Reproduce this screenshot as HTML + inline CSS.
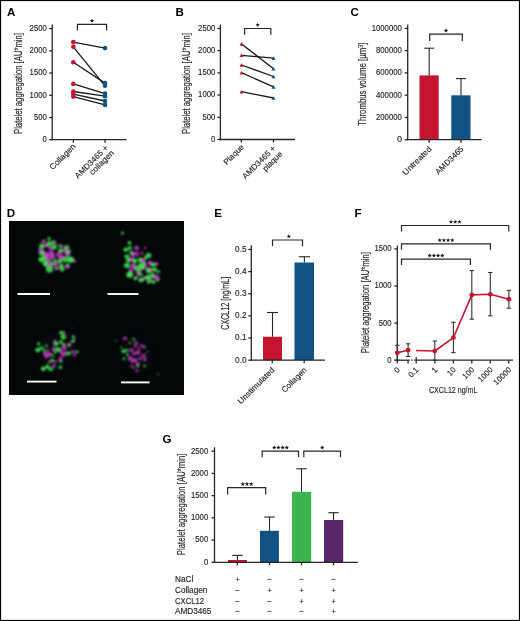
<!DOCTYPE html>
<html><head><meta charset="utf-8"><style>
html,body{margin:0;padding:0;background:#fff;}
body{width:520px;height:621px;overflow:hidden;}
svg{will-change:transform;display:block;font-family:"Liberation Sans", sans-serif;}
</style></head><body>
<svg width="520" height="621" viewBox="0 0 520 621">
<rect x="0" y="0" width="520" height="621" fill="#fff"/>
<text x="7.00" y="15.80" font-size="11.6" fill="#000" text-anchor="start" font-weight="bold">A</text>
<line x1="52.20" y1="24.60" x2="52.20" y2="140.35" stroke="#262626" stroke-width="1.3" />
<line x1="49.20" y1="139.70" x2="52.20" y2="139.70" stroke="#262626" stroke-width="1.3" />
<text x="46.80" y="142.10" font-size="8.6" fill="#231f20" text-anchor="end" stroke="#231f20" stroke-width="0.15" textLength="4.3" lengthAdjust="spacingAndGlyphs">0</text>
<line x1="49.20" y1="117.48" x2="52.20" y2="117.48" stroke="#262626" stroke-width="1.3" />
<text x="46.80" y="119.88" font-size="8.6" fill="#231f20" text-anchor="end" stroke="#231f20" stroke-width="0.15" textLength="12.899999999999999" lengthAdjust="spacingAndGlyphs">500</text>
<line x1="49.20" y1="95.26" x2="52.20" y2="95.26" stroke="#262626" stroke-width="1.3" />
<text x="46.80" y="97.66" font-size="8.6" fill="#231f20" text-anchor="end" stroke="#231f20" stroke-width="0.15" textLength="17.2" lengthAdjust="spacingAndGlyphs">1000</text>
<line x1="49.20" y1="73.04" x2="52.20" y2="73.04" stroke="#262626" stroke-width="1.3" />
<text x="46.80" y="75.44" font-size="8.6" fill="#231f20" text-anchor="end" stroke="#231f20" stroke-width="0.15" textLength="17.2" lengthAdjust="spacingAndGlyphs">1500</text>
<line x1="49.20" y1="50.82" x2="52.20" y2="50.82" stroke="#262626" stroke-width="1.3" />
<text x="46.80" y="53.22" font-size="8.6" fill="#231f20" text-anchor="end" stroke="#231f20" stroke-width="0.15" textLength="17.2" lengthAdjust="spacingAndGlyphs">2000</text>
<line x1="49.20" y1="28.60" x2="52.20" y2="28.60" stroke="#262626" stroke-width="1.3" />
<text x="46.80" y="31.00" font-size="8.6" fill="#231f20" text-anchor="end" stroke="#231f20" stroke-width="0.15" textLength="17.2" lengthAdjust="spacingAndGlyphs">2500</text>
<line x1="51.55" y1="139.70" x2="126.50" y2="139.70" stroke="#262626" stroke-width="1.3" />
<line x1="73.40" y1="139.70" x2="73.40" y2="142.70" stroke="#262626" stroke-width="1.3" />
<line x1="105.10" y1="139.70" x2="105.10" y2="142.70" stroke="#262626" stroke-width="1.3" />
<polyline points="77.4,30.4 77.4,24.3 106.6,24.3 106.6,30.4" fill="none" stroke="#262626" stroke-width="1.2"/>
<polygon points="92.00,18.40 92.56,19.93 94.19,19.99 92.90,20.99 93.35,22.56 92.00,21.65 90.65,22.56 91.10,20.99 89.81,19.99 91.44,19.93" fill="#111"/>
<line x1="73.30" y1="42.10" x2="105.00" y2="48.10" stroke="#1a1a1a" stroke-width="1.3" />
<line x1="73.30" y1="46.80" x2="105.00" y2="85.80" stroke="#1a1a1a" stroke-width="1.3" />
<line x1="73.30" y1="62.20" x2="105.00" y2="83.10" stroke="#1a1a1a" stroke-width="1.3" />
<line x1="73.30" y1="83.90" x2="105.00" y2="93.60" stroke="#1a1a1a" stroke-width="1.3" />
<line x1="73.30" y1="91.50" x2="105.00" y2="96.20" stroke="#1a1a1a" stroke-width="1.3" />
<line x1="73.30" y1="94.10" x2="105.00" y2="101.00" stroke="#1a1a1a" stroke-width="1.3" />
<line x1="73.30" y1="96.60" x2="105.00" y2="104.90" stroke="#1a1a1a" stroke-width="1.3" />
<circle cx="73.3" cy="42.1" r="2.3" fill="#c41430"/>
<circle cx="105.0" cy="48.1" r="2.3" fill="#105283"/>
<circle cx="73.3" cy="46.8" r="2.3" fill="#c41430"/>
<circle cx="105.0" cy="85.8" r="2.3" fill="#105283"/>
<circle cx="73.3" cy="62.2" r="2.3" fill="#c41430"/>
<circle cx="105.0" cy="83.1" r="2.3" fill="#105283"/>
<circle cx="73.3" cy="83.9" r="2.3" fill="#c41430"/>
<circle cx="105.0" cy="93.6" r="2.3" fill="#105283"/>
<circle cx="73.3" cy="91.5" r="2.3" fill="#c41430"/>
<circle cx="105.0" cy="96.2" r="2.3" fill="#105283"/>
<circle cx="73.3" cy="94.1" r="2.3" fill="#c41430"/>
<circle cx="105.0" cy="101.0" r="2.3" fill="#105283"/>
<circle cx="73.3" cy="96.6" r="2.3" fill="#c41430"/>
<circle cx="105.0" cy="104.9" r="2.3" fill="#105283"/>
<text transform="translate(21.90,83.50) rotate(-90)" font-size="10" fill="#231f20" text-anchor="middle" stroke="#231f20" stroke-width="0.15" textLength="101" lengthAdjust="spacingAndGlyphs">Platelet aggregation [AU*min]</text>
<text transform="translate(76.00,147.00) rotate(-45)" font-size="8" fill="#231f20" text-anchor="end" stroke="#231f20" stroke-width="0.15" textLength="33" lengthAdjust="spacingAndGlyphs">Collagen</text>
<text transform="translate(108.50,148.50) rotate(-45)" font-size="8" fill="#231f20" text-anchor="end" stroke="#231f20" stroke-width="0.15" textLength="43" lengthAdjust="spacingAndGlyphs">AMD3465 +</text>
<text transform="translate(114.50,153.50) rotate(-45)" font-size="8" fill="#231f20" text-anchor="end" stroke="#231f20" stroke-width="0.15" textLength="31" lengthAdjust="spacingAndGlyphs">collagen</text>
<text x="175.60" y="15.80" font-size="11.6" fill="#000" text-anchor="start" font-weight="bold">B</text>
<line x1="220.40" y1="24.60" x2="220.40" y2="140.15" stroke="#262626" stroke-width="1.3" />
<line x1="217.40" y1="139.50" x2="220.40" y2="139.50" stroke="#262626" stroke-width="1.3" />
<text x="215.30" y="141.90" font-size="8.6" fill="#231f20" text-anchor="end" stroke="#231f20" stroke-width="0.15" textLength="4.3" lengthAdjust="spacingAndGlyphs">0</text>
<line x1="217.40" y1="117.28" x2="220.40" y2="117.28" stroke="#262626" stroke-width="1.3" />
<text x="215.30" y="119.68" font-size="8.6" fill="#231f20" text-anchor="end" stroke="#231f20" stroke-width="0.15" textLength="12.899999999999999" lengthAdjust="spacingAndGlyphs">500</text>
<line x1="217.40" y1="95.06" x2="220.40" y2="95.06" stroke="#262626" stroke-width="1.3" />
<text x="215.30" y="97.46" font-size="8.6" fill="#231f20" text-anchor="end" stroke="#231f20" stroke-width="0.15" textLength="17.2" lengthAdjust="spacingAndGlyphs">1000</text>
<line x1="217.40" y1="72.84" x2="220.40" y2="72.84" stroke="#262626" stroke-width="1.3" />
<text x="215.30" y="75.24" font-size="8.6" fill="#231f20" text-anchor="end" stroke="#231f20" stroke-width="0.15" textLength="17.2" lengthAdjust="spacingAndGlyphs">1500</text>
<line x1="217.40" y1="50.62" x2="220.40" y2="50.62" stroke="#262626" stroke-width="1.3" />
<text x="215.30" y="53.02" font-size="8.6" fill="#231f20" text-anchor="end" stroke="#231f20" stroke-width="0.15" textLength="17.2" lengthAdjust="spacingAndGlyphs">2000</text>
<line x1="217.40" y1="28.40" x2="220.40" y2="28.40" stroke="#262626" stroke-width="1.3" />
<text x="215.30" y="30.80" font-size="8.6" fill="#231f20" text-anchor="end" stroke="#231f20" stroke-width="0.15" textLength="17.2" lengthAdjust="spacingAndGlyphs">2500</text>
<line x1="219.75" y1="139.50" x2="295.00" y2="139.50" stroke="#262626" stroke-width="1.3" />
<line x1="241.30" y1="139.50" x2="241.30" y2="142.50" stroke="#262626" stroke-width="1.3" />
<line x1="273.50" y1="139.50" x2="273.50" y2="142.50" stroke="#262626" stroke-width="1.3" />
<polyline points="244.6,34.7 244.6,28.5 270.8,28.5 270.8,34.7" fill="none" stroke="#262626" stroke-width="1.2"/>
<polygon points="257.70,22.60 258.26,24.13 259.89,24.19 258.60,25.19 259.05,26.76 257.70,25.85 256.35,26.76 256.80,25.19 255.51,24.19 257.14,24.13" fill="#111"/>
<line x1="241.50" y1="43.90" x2="273.50" y2="68.80" stroke="#1a1a1a" stroke-width="1.3" />
<line x1="241.50" y1="55.30" x2="273.50" y2="58.10" stroke="#1a1a1a" stroke-width="1.3" />
<line x1="241.50" y1="65.00" x2="273.50" y2="76.50" stroke="#1a1a1a" stroke-width="1.3" />
<line x1="241.50" y1="72.70" x2="273.50" y2="86.90" stroke="#1a1a1a" stroke-width="1.3" />
<line x1="241.50" y1="91.70" x2="273.50" y2="98.00" stroke="#1a1a1a" stroke-width="1.3" />
<polygon points="239.50,45.70 243.50,45.70 241.50,42.10" fill="#c41430"/>
<polygon points="271.50,70.60 275.50,70.60 273.50,67.00" fill="#105283"/>
<polygon points="239.50,57.10 243.50,57.10 241.50,53.50" fill="#c41430"/>
<polygon points="271.50,59.90 275.50,59.90 273.50,56.30" fill="#105283"/>
<polygon points="239.50,66.80 243.50,66.80 241.50,63.20" fill="#c41430"/>
<polygon points="271.50,78.30 275.50,78.30 273.50,74.70" fill="#105283"/>
<polygon points="239.50,74.50 243.50,74.50 241.50,70.90" fill="#c41430"/>
<polygon points="271.50,88.70 275.50,88.70 273.50,85.10" fill="#105283"/>
<polygon points="239.50,93.50 243.50,93.50 241.50,89.90" fill="#c41430"/>
<polygon points="271.50,99.80 275.50,99.80 273.50,96.20" fill="#105283"/>
<text transform="translate(190.10,83.50) rotate(-90)" font-size="10" fill="#231f20" text-anchor="middle" stroke="#231f20" stroke-width="0.15" textLength="101" lengthAdjust="spacingAndGlyphs">Platelet aggregation [AU*min]</text>
<text transform="translate(244.50,147.50) rotate(-45)" font-size="8" fill="#231f20" text-anchor="end" stroke="#231f20" stroke-width="0.15" textLength="25" lengthAdjust="spacingAndGlyphs">Plaque</text>
<text transform="translate(276.00,149.00) rotate(-45)" font-size="8" fill="#231f20" text-anchor="end" stroke="#231f20" stroke-width="0.15" textLength="43" lengthAdjust="spacingAndGlyphs">AMD3465 +</text>
<text transform="translate(283.00,154.50) rotate(-45)" font-size="8" fill="#231f20" text-anchor="end" stroke="#231f20" stroke-width="0.15" textLength="24.5" lengthAdjust="spacingAndGlyphs">plaque</text>
<text x="350.40" y="15.80" font-size="11.6" fill="#000" text-anchor="start" font-weight="bold">C</text>
<line x1="407.70" y1="24.60" x2="407.70" y2="140.35" stroke="#262626" stroke-width="1.3" />
<line x1="404.70" y1="139.70" x2="407.70" y2="139.70" stroke="#262626" stroke-width="1.3" />
<text x="401.90" y="142.10" font-size="9" fill="#231f20" text-anchor="end" stroke="#231f20" stroke-width="0.15">0</text>
<line x1="404.70" y1="117.44" x2="407.70" y2="117.44" stroke="#262626" stroke-width="1.3" />
<text x="401.90" y="119.84" font-size="9" fill="#231f20" text-anchor="end" stroke="#231f20" stroke-width="0.15" textLength="25.92" lengthAdjust="spacingAndGlyphs">200000</text>
<line x1="404.70" y1="95.18" x2="407.70" y2="95.18" stroke="#262626" stroke-width="1.3" />
<text x="401.90" y="97.58" font-size="9" fill="#231f20" text-anchor="end" stroke="#231f20" stroke-width="0.15" textLength="25.92" lengthAdjust="spacingAndGlyphs">400000</text>
<line x1="404.70" y1="72.92" x2="407.70" y2="72.92" stroke="#262626" stroke-width="1.3" />
<text x="401.90" y="75.32" font-size="9" fill="#231f20" text-anchor="end" stroke="#231f20" stroke-width="0.15" textLength="25.92" lengthAdjust="spacingAndGlyphs">600000</text>
<line x1="404.70" y1="50.66" x2="407.70" y2="50.66" stroke="#262626" stroke-width="1.3" />
<text x="401.90" y="53.06" font-size="9" fill="#231f20" text-anchor="end" stroke="#231f20" stroke-width="0.15" textLength="25.92" lengthAdjust="spacingAndGlyphs">800000</text>
<line x1="404.70" y1="28.40" x2="407.70" y2="28.40" stroke="#262626" stroke-width="1.3" />
<text x="401.90" y="30.80" font-size="9" fill="#231f20" text-anchor="end" stroke="#231f20" stroke-width="0.15" textLength="30.240000000000002" lengthAdjust="spacingAndGlyphs">1000000</text>
<rect x="419.5" y="75.4" width="19.2" height="64.30" fill="#c41430"/>
<rect x="451.3" y="95.3" width="19.2" height="44.40" fill="#105283"/>
<line x1="429.20" y1="48.20" x2="429.20" y2="75.40" stroke="#262626" stroke-width="1.1" />
<line x1="424.15" y1="48.20" x2="434.25" y2="48.20" stroke="#262626" stroke-width="1.1" />
<line x1="461.00" y1="78.60" x2="461.00" y2="95.30" stroke="#262626" stroke-width="1.1" />
<line x1="455.95" y1="78.60" x2="466.05" y2="78.60" stroke="#262626" stroke-width="1.1" />
<line x1="407.25" y1="139.70" x2="481.60" y2="139.70" stroke="#262626" stroke-width="1.3" />
<line x1="429.20" y1="139.70" x2="429.20" y2="142.70" stroke="#262626" stroke-width="1.3" />
<line x1="461.00" y1="139.70" x2="461.00" y2="142.70" stroke="#262626" stroke-width="1.3" />
<polyline points="429.7,40.9 429.7,34.2 462.3,34.2 462.3,40.9" fill="none" stroke="#262626" stroke-width="1.2"/>
<polygon points="446.00,28.30 446.56,29.83 448.19,29.89 446.90,30.89 447.35,32.46 446.00,31.55 444.65,32.46 445.10,30.89 443.81,29.89 445.44,29.83" fill="#111"/>
<text transform="translate(365.90,84.20) rotate(-90)" font-size="10" fill="#231f20" text-anchor="middle" stroke="#231f20" stroke-width="0.15" textLength="83" lengthAdjust="spacingAndGlyphs">Thrombus volume [µm<tspan font-size="6.5" dy="-3.2">3</tspan><tspan dy="3.2">]</tspan></text>
<text transform="translate(432.00,149.50) rotate(-45)" font-size="8" fill="#231f20" text-anchor="end" stroke="#231f20" stroke-width="0.15" textLength="37" lengthAdjust="spacingAndGlyphs">Untreated</text>
<text transform="translate(464.00,149.50) rotate(-45)" font-size="8" fill="#231f20" text-anchor="end" stroke="#231f20" stroke-width="0.15" textLength="36" lengthAdjust="spacingAndGlyphs">AMD3465</text>
<text x="6.80" y="216.60" font-size="11.6" fill="#000" text-anchor="start" font-weight="bold">D</text>
<rect x="9" y="221" width="175" height="174" fill="#030708"/>
<defs><filter id="bl" x="-20%" y="-20%" width="140%" height="140%"><feGaussianBlur stdDeviation="0.95"/></filter><filter id="bl2" x="-50%" y="-50%" width="200%" height="200%"><feGaussianBlur stdDeviation="3"/></filter><clipPath id="dclip"><rect x="9" y="221" width="175" height="174"/></clipPath></defs>
<g clip-path="url(#dclip)">
<ellipse cx="56" cy="255" rx="16" ry="16" transform="rotate(0 56 255)" fill="#3a1a3f" opacity="0.15" filter="url(#bl2)"/>
<ellipse cx="142" cy="263" rx="12" ry="22" transform="rotate(-35 142 263)" fill="#3a1a3f" opacity="0.15" filter="url(#bl2)"/>
<ellipse cx="57" cy="350" rx="19" ry="17" transform="rotate(-30 57 350)" fill="#3a1a3f" opacity="0.15" filter="url(#bl2)"/>
<ellipse cx="136" cy="355" rx="14" ry="17" transform="rotate(-20 136 355)" fill="#3a1a3f" opacity="0.15" filter="url(#bl2)"/>
</g>
<g filter="url(#bl)" clip-path="url(#dclip)">
<ellipse cx="41.8" cy="252.7" rx="2.98" ry="2.99" fill="#3ce04f" opacity="0.91"/>
<ellipse cx="56.0" cy="268.1" rx="1.79" ry="1.55" fill="#3ce04f" opacity="0.95"/>
<ellipse cx="60.6" cy="250.4" rx="2.38" ry="1.97" fill="#3ce04f" opacity="1.00"/>
<ellipse cx="66.0" cy="250.4" rx="2.98" ry="2.91" fill="#c840c8" opacity="0.88"/>
<ellipse cx="61.4" cy="257.3" rx="2.98" ry="2.72" fill="#c840c8" opacity="0.83"/>
<ellipse cx="44.5" cy="258.1" rx="2.98" ry="2.85" fill="#3ce04f" opacity="0.81"/>
<ellipse cx="53.7" cy="241.9" rx="1.79" ry="1.67" fill="#3ce04f" opacity="0.95"/>
<ellipse cx="46.0" cy="263.5" rx="3.34" ry="2.91" fill="#3ce04f" opacity="0.98"/>
<ellipse cx="46.0" cy="245.4" rx="2.15" ry="2.01" fill="#c840c8" opacity="0.94"/>
<ellipse cx="55.2" cy="260.4" rx="1.79" ry="1.62" fill="#3ce04f" opacity="0.92"/>
<ellipse cx="43.7" cy="241.2" rx="1.79" ry="1.83" fill="#c840c8" opacity="0.97"/>
<ellipse cx="49.5" cy="243.8" rx="2.98" ry="2.85" fill="#3ce04f" opacity="0.89"/>
<ellipse cx="54.5" cy="243.5" rx="1.79" ry="1.72" fill="#c840c8" opacity="0.81"/>
<ellipse cx="67.5" cy="254.6" rx="2.15" ry="2.22" fill="#c840c8" opacity="0.93"/>
<ellipse cx="59.8" cy="261.2" rx="2.38" ry="2.06" fill="#3ce04f" opacity="0.96"/>
<ellipse cx="62.2" cy="246.5" rx="1.43" ry="1.37" fill="#c840c8" opacity="0.88"/>
<ellipse cx="48.3" cy="267.3" rx="2.38" ry="2.16" fill="#3ce04f" opacity="0.80"/>
<ellipse cx="61.4" cy="265.0" rx="1.79" ry="1.48" fill="#c840c8" opacity="0.83"/>
<ellipse cx="41.0" cy="249.6" rx="2.62" ry="2.57" fill="#c840c8" opacity="0.81"/>
<ellipse cx="51.0" cy="266.2" rx="2.15" ry="1.84" fill="#c840c8" opacity="0.83"/>
<ellipse cx="49.1" cy="238.5" rx="1.79" ry="1.80" fill="#3ce04f" opacity="0.88"/>
<ellipse cx="59.8" cy="245.8" rx="1.79" ry="1.62" fill="#3ce04f" opacity="0.82"/>
<ellipse cx="52.2" cy="255.8" rx="2.98" ry="3.00" fill="#c840c8" opacity="0.91"/>
<ellipse cx="68.3" cy="251.9" rx="2.15" ry="2.15" fill="#3ce04f" opacity="0.96"/>
<ellipse cx="49.5" cy="269.6" rx="3.58" ry="3.21" fill="#3ce04f" opacity="0.86"/>
<ellipse cx="48.3" cy="263.8" rx="2.15" ry="2.16" fill="#c840c8" opacity="0.87"/>
<ellipse cx="41.4" cy="259.6" rx="2.98" ry="2.49" fill="#3ce04f" opacity="0.99"/>
<ellipse cx="57.2" cy="268.5" rx="1.79" ry="1.53" fill="#c840c8" opacity="0.84"/>
<ellipse cx="66.8" cy="247.3" rx="2.38" ry="2.18" fill="#3ce04f" opacity="0.85"/>
<ellipse cx="54.5" cy="247.3" rx="2.62" ry="2.26" fill="#3ce04f" opacity="0.92"/>
<ellipse cx="59.1" cy="254.6" rx="2.98" ry="2.68" fill="#c840c8" opacity="0.80"/>
<ellipse cx="69.8" cy="251.2" rx="1.43" ry="1.33" fill="#c840c8" opacity="0.87"/>
<ellipse cx="70.6" cy="259.6" rx="3.34" ry="3.21" fill="#3ce04f" opacity="0.99"/>
<ellipse cx="51.4" cy="252.3" rx="2.15" ry="2.03" fill="#c840c8" opacity="0.90"/>
<ellipse cx="56.0" cy="264.2" rx="2.38" ry="1.94" fill="#c840c8" opacity="0.94"/>
<ellipse cx="61.4" cy="266.5" rx="2.38" ry="2.34" fill="#3ce04f" opacity="0.98"/>
<ellipse cx="46.4" cy="255.0" rx="2.98" ry="2.94" fill="#c840c8" opacity="0.97"/>
<ellipse cx="41.8" cy="245.8" rx="2.62" ry="2.34" fill="#3ce04f" opacity="0.88"/>
<ellipse cx="49.5" cy="259.6" rx="2.38" ry="2.26" fill="#c840c8" opacity="0.82"/>
<ellipse cx="74.5" cy="261.2" rx="1.79" ry="1.46" fill="#c840c8" opacity="0.81"/>
<ellipse cx="67.5" cy="266.5" rx="2.62" ry="2.20" fill="#c840c8" opacity="0.84"/>
<ellipse cx="50.6" cy="248.5" rx="2.15" ry="1.74" fill="#c840c8" opacity="0.87"/>
<ellipse cx="52.2" cy="263.5" rx="2.38" ry="1.99" fill="#3ce04f" opacity="0.80"/>
<ellipse cx="67.5" cy="265.0" rx="1.79" ry="1.58" fill="#3ce04f" opacity="0.82"/>
<ellipse cx="65.2" cy="259.6" rx="2.98" ry="2.99" fill="#3ce04f" opacity="0.81"/>
<ellipse cx="62.2" cy="269.6" rx="2.38" ry="1.99" fill="#3ce04f" opacity="0.92"/>
<ellipse cx="148.7" cy="255.4" rx="2.67" ry="2.72" fill="#3ce04f" opacity="0.89"/>
<ellipse cx="154.7" cy="269.5" rx="2.18" ry="2.23" fill="#3ce04f" opacity="1.00"/>
<ellipse cx="139.4" cy="271.1" rx="1.82" ry="1.55" fill="#c840c8" opacity="0.87"/>
<ellipse cx="137.4" cy="272.7" rx="1.82" ry="1.54" fill="#c840c8" opacity="0.85"/>
<ellipse cx="137.0" cy="268.3" rx="3.03" ry="2.86" fill="#3ce04f" opacity="0.84"/>
<ellipse cx="140.2" cy="259.8" rx="2.42" ry="2.41" fill="#3ce04f" opacity="0.98"/>
<ellipse cx="126.9" cy="256.6" rx="2.42" ry="2.31" fill="#3ce04f" opacity="0.90"/>
<ellipse cx="148.3" cy="277.6" rx="3.39" ry="2.78" fill="#3ce04f" opacity="0.96"/>
<ellipse cx="135.3" cy="278.4" rx="1.82" ry="1.84" fill="#3ce04f" opacity="0.93"/>
<ellipse cx="144.2" cy="263.8" rx="1.82" ry="1.77" fill="#3ce04f" opacity="0.96"/>
<ellipse cx="131.3" cy="259.4" rx="2.67" ry="2.24" fill="#c840c8" opacity="0.90"/>
<ellipse cx="156.8" cy="263.8" rx="1.82" ry="1.59" fill="#c840c8" opacity="0.96"/>
<ellipse cx="129.5" cy="242.8" rx="1.82" ry="1.87" fill="#3ce04f" opacity="0.96"/>
<ellipse cx="141.8" cy="253.3" rx="1.45" ry="1.30" fill="#c840c8" opacity="0.88"/>
<ellipse cx="158.0" cy="280.0" rx="1.45" ry="1.41" fill="#3ce04f" opacity="0.99"/>
<ellipse cx="140.2" cy="274.3" rx="2.42" ry="2.01" fill="#3ce04f" opacity="0.83"/>
<ellipse cx="145.0" cy="248.1" rx="1.21" ry="1.23" fill="#c840c8" opacity="0.83"/>
<ellipse cx="132.9" cy="255.0" rx="2.18" ry="1.82" fill="#c840c8" opacity="0.96"/>
<ellipse cx="141.8" cy="266.3" rx="3.63" ry="3.74" fill="#3ce04f" opacity="0.97"/>
<ellipse cx="125.7" cy="249.7" rx="2.42" ry="2.14" fill="#3ce04f" opacity="0.93"/>
<ellipse cx="143.8" cy="278.4" rx="2.18" ry="1.81" fill="#c840c8" opacity="0.91"/>
<ellipse cx="129.7" cy="248.1" rx="2.18" ry="2.24" fill="#3ce04f" opacity="0.80"/>
<ellipse cx="131.3" cy="252.5" rx="1.82" ry="1.68" fill="#3ce04f" opacity="0.93"/>
<ellipse cx="129.7" cy="274.8" rx="3.39" ry="3.06" fill="#3ce04f" opacity="0.99"/>
<ellipse cx="134.9" cy="261.0" rx="2.42" ry="2.41" fill="#3ce04f" opacity="0.97"/>
<ellipse cx="156.3" cy="277.2" rx="3.03" ry="2.60" fill="#c840c8" opacity="0.84"/>
<ellipse cx="158.4" cy="271.5" rx="1.82" ry="1.55" fill="#3ce04f" opacity="0.86"/>
<ellipse cx="149.1" cy="270.3" rx="3.39" ry="2.92" fill="#3ce04f" opacity="0.92"/>
<ellipse cx="136.6" cy="248.1" rx="2.42" ry="2.01" fill="#c840c8" opacity="0.88"/>
<ellipse cx="153.1" cy="264.7" rx="2.42" ry="2.14" fill="#3ce04f" opacity="0.98"/>
<ellipse cx="151.1" cy="280.8" rx="1.45" ry="1.36" fill="#c840c8" opacity="0.89"/>
<ellipse cx="148.7" cy="282.0" rx="1.82" ry="1.63" fill="#3ce04f" opacity="0.98"/>
<ellipse cx="150.7" cy="270.7" rx="1.82" ry="1.67" fill="#c840c8" opacity="0.98"/>
<ellipse cx="122.4" cy="233.2" rx="1.45" ry="1.34" fill="#3ce04f" opacity="0.91"/>
<ellipse cx="136.2" cy="253.8" rx="2.67" ry="2.41" fill="#c840c8" opacity="0.80"/>
<ellipse cx="145.0" cy="266.7" rx="2.18" ry="1.74" fill="#c840c8" opacity="0.84"/>
<ellipse cx="133.3" cy="265.9" rx="2.67" ry="2.24" fill="#c840c8" opacity="0.96"/>
<ellipse cx="149.9" cy="263.0" rx="2.42" ry="2.35" fill="#c840c8" opacity="0.89"/>
<ellipse cx="141.0" cy="280.0" rx="2.67" ry="2.33" fill="#3ce04f" opacity="0.91"/>
<ellipse cx="128.1" cy="260.6" rx="2.18" ry="2.03" fill="#3ce04f" opacity="0.90"/>
<ellipse cx="143.4" cy="260.6" rx="2.42" ry="2.00" fill="#c840c8" opacity="0.96"/>
<ellipse cx="153.5" cy="282.0" rx="2.18" ry="1.87" fill="#3ce04f" opacity="0.91"/>
<ellipse cx="145.8" cy="257.4" rx="1.82" ry="1.78" fill="#3ce04f" opacity="0.86"/>
<ellipse cx="136.6" cy="276.8" rx="1.45" ry="1.35" fill="#c840c8" opacity="0.90"/>
<ellipse cx="152.3" cy="275.2" rx="2.18" ry="2.21" fill="#3ce04f" opacity="0.95"/>
<ellipse cx="130.9" cy="270.3" rx="2.18" ry="2.06" fill="#c840c8" opacity="0.89"/>
<ellipse cx="126.9" cy="265.5" rx="3.03" ry="2.78" fill="#3ce04f" opacity="0.90"/>
<ellipse cx="44.5" cy="369.2" rx="1.30" ry="1.14" fill="#c840c8" opacity="0.80"/>
<ellipse cx="77.2" cy="351.9" rx="1.56" ry="1.43" fill="#3ce04f" opacity="0.92"/>
<ellipse cx="52.2" cy="360.6" rx="1.95" ry="2.01" fill="#3ce04f" opacity="0.81"/>
<ellipse cx="69.5" cy="345.2" rx="1.56" ry="1.60" fill="#3ce04f" opacity="0.96"/>
<ellipse cx="55.1" cy="352.4" rx="1.56" ry="1.34" fill="#3ce04f" opacity="0.82"/>
<ellipse cx="64.2" cy="332.7" rx="1.30" ry="1.27" fill="#c840c8" opacity="0.81"/>
<ellipse cx="50.8" cy="369.2" rx="2.34" ry="1.94" fill="#3ce04f" opacity="0.85"/>
<ellipse cx="74.3" cy="354.8" rx="1.56" ry="1.58" fill="#c840c8" opacity="0.88"/>
<ellipse cx="54.1" cy="365.9" rx="1.95" ry="1.67" fill="#c840c8" opacity="0.96"/>
<ellipse cx="63.2" cy="353.8" rx="2.86" ry="2.90" fill="#c840c8" opacity="0.83"/>
<ellipse cx="52.7" cy="355.8" rx="1.30" ry="1.25" fill="#3ce04f" opacity="0.91"/>
<ellipse cx="41.6" cy="348.1" rx="2.34" ry="1.90" fill="#3ce04f" opacity="0.82"/>
<ellipse cx="68.5" cy="343.8" rx="1.30" ry="1.17" fill="#c840c8" opacity="0.94"/>
<ellipse cx="49.3" cy="362.0" rx="1.56" ry="1.59" fill="#c840c8" opacity="0.81"/>
<ellipse cx="46.4" cy="356.2" rx="1.95" ry="1.92" fill="#c840c8" opacity="0.93"/>
<ellipse cx="60.4" cy="358.7" rx="1.95" ry="1.95" fill="#c840c8" opacity="0.82"/>
<ellipse cx="60.8" cy="351.0" rx="1.56" ry="1.56" fill="#c840c8" opacity="0.81"/>
<ellipse cx="68.5" cy="353.4" rx="2.34" ry="2.05" fill="#3ce04f" opacity="0.89"/>
<ellipse cx="63.2" cy="337.0" rx="2.60" ry="2.64" fill="#3ce04f" opacity="0.91"/>
<ellipse cx="72.4" cy="341.3" rx="1.95" ry="1.61" fill="#3ce04f" opacity="0.85"/>
<ellipse cx="53.6" cy="349.0" rx="1.95" ry="1.66" fill="#c840c8" opacity="0.91"/>
<ellipse cx="55.6" cy="361.5" rx="1.56" ry="1.30" fill="#c840c8" opacity="0.82"/>
<ellipse cx="73.3" cy="337.0" rx="1.95" ry="1.65" fill="#3ce04f" opacity="0.81"/>
<ellipse cx="47.9" cy="350.5" rx="1.30" ry="1.13" fill="#c840c8" opacity="0.86"/>
<ellipse cx="37.8" cy="350.0" rx="2.60" ry="2.25" fill="#3ce04f" opacity="0.95"/>
<ellipse cx="63.7" cy="344.2" rx="1.56" ry="1.31" fill="#3ce04f" opacity="0.90"/>
<ellipse cx="60.8" cy="361.5" rx="1.56" ry="1.25" fill="#3ce04f" opacity="0.87"/>
<ellipse cx="61.3" cy="332.7" rx="2.34" ry="1.88" fill="#3ce04f" opacity="0.85"/>
<ellipse cx="60.8" cy="342.3" rx="1.95" ry="1.81" fill="#3ce04f" opacity="0.95"/>
<ellipse cx="60.4" cy="367.3" rx="1.95" ry="1.77" fill="#3ce04f" opacity="0.84"/>
<ellipse cx="74.3" cy="340.4" rx="1.30" ry="1.07" fill="#c840c8" opacity="0.99"/>
<ellipse cx="47.4" cy="366.8" rx="2.34" ry="2.10" fill="#3ce04f" opacity="0.96"/>
<ellipse cx="72.9" cy="351.4" rx="1.56" ry="1.55" fill="#c840c8" opacity="0.90"/>
<ellipse cx="58.0" cy="349.5" rx="2.60" ry="2.38" fill="#3ce04f" opacity="0.88"/>
<ellipse cx="38.7" cy="343.8" rx="1.56" ry="1.60" fill="#3ce04f" opacity="0.94"/>
<ellipse cx="55.1" cy="341.3" rx="1.56" ry="1.55" fill="#c840c8" opacity="0.87"/>
<ellipse cx="43.1" cy="368.8" rx="2.34" ry="2.22" fill="#3ce04f" opacity="0.94"/>
<ellipse cx="56.0" cy="343.8" rx="2.60" ry="2.29" fill="#3ce04f" opacity="0.88"/>
<ellipse cx="46.4" cy="345.7" rx="1.56" ry="1.29" fill="#3ce04f" opacity="0.81"/>
<ellipse cx="44.5" cy="350.5" rx="1.56" ry="1.52" fill="#3ce04f" opacity="0.81"/>
<ellipse cx="48.8" cy="354.3" rx="2.86" ry="2.39" fill="#c840c8" opacity="0.85"/>
<ellipse cx="64.2" cy="347.6" rx="2.60" ry="2.59" fill="#c840c8" opacity="0.82"/>
<ellipse cx="44.5" cy="353.8" rx="1.56" ry="1.49" fill="#c840c8" opacity="0.97"/>
<ellipse cx="135.6" cy="345.9" rx="1.50" ry="1.45" fill="#c840c8" opacity="0.83"/>
<ellipse cx="130.3" cy="358.4" rx="2.50" ry="2.23" fill="#c840c8" opacity="0.88"/>
<ellipse cx="138.0" cy="363.7" rx="1.88" ry="1.93" fill="#c840c8" opacity="0.77"/>
<ellipse cx="144.7" cy="359.8" rx="1.88" ry="1.82" fill="#c840c8" opacity="0.73"/>
<ellipse cx="139.9" cy="358.4" rx="1.88" ry="1.52" fill="#c840c8" opacity="0.83"/>
<ellipse cx="126.9" cy="350.2" rx="1.50" ry="1.51" fill="#3ce04f" opacity="0.87"/>
<ellipse cx="134.1" cy="353.6" rx="1.88" ry="1.82" fill="#c840c8" opacity="0.83"/>
<ellipse cx="133.6" cy="368.0" rx="1.25" ry="1.04" fill="#c840c8" opacity="0.86"/>
<ellipse cx="129.8" cy="343.0" rx="1.25" ry="1.15" fill="#3ce04f" opacity="0.80"/>
<ellipse cx="158.2" cy="374.2" rx="0.75" ry="0.74" fill="#3ce04f" opacity="0.87"/>
<ellipse cx="124.0" cy="358.8" rx="1.50" ry="1.40" fill="#3ce04f" opacity="0.87"/>
<ellipse cx="135.1" cy="360.3" rx="2.25" ry="2.16" fill="#c840c8" opacity="0.88"/>
<ellipse cx="133.6" cy="339.1" rx="1.50" ry="1.28" fill="#3ce04f" opacity="0.84"/>
<ellipse cx="116.3" cy="340.6" rx="1.00" ry="0.83" fill="#3ce04f" opacity="0.71"/>
<ellipse cx="131.7" cy="366.1" rx="1.50" ry="1.24" fill="#c840c8" opacity="0.77"/>
<ellipse cx="125.0" cy="338.2" rx="1.88" ry="1.74" fill="#c840c8" opacity="0.87"/>
<ellipse cx="136.0" cy="343.0" rx="1.88" ry="1.77" fill="#c840c8" opacity="0.83"/>
<ellipse cx="143.7" cy="346.8" rx="1.88" ry="1.71" fill="#c840c8" opacity="0.84"/>
<ellipse cx="143.7" cy="356.0" rx="2.25" ry="2.22" fill="#c840c8" opacity="0.70"/>
<ellipse cx="127.4" cy="354.5" rx="1.50" ry="1.38" fill="#3ce04f" opacity="0.85"/>
<ellipse cx="123.5" cy="351.2" rx="2.25" ry="2.15" fill="#3ce04f" opacity="0.81"/>
<ellipse cx="138.9" cy="348.8" rx="1.50" ry="1.46" fill="#c840c8" opacity="0.71"/>
<ellipse cx="131.7" cy="350.2" rx="2.25" ry="1.84" fill="#c840c8" opacity="0.75"/>
<ellipse cx="138.0" cy="352.6" rx="2.50" ry="2.43" fill="#c840c8" opacity="0.75"/>
<ellipse cx="140.8" cy="345.4" rx="1.25" ry="1.22" fill="#c840c8" opacity="0.74"/>
<ellipse cx="121.1" cy="347.3" rx="1.00" ry="0.92" fill="#3ce04f" opacity="0.90"/>
<ellipse cx="137.0" cy="370.9" rx="1.50" ry="1.37" fill="#c840c8" opacity="0.78"/>
<ellipse cx="132.2" cy="361.7" rx="1.50" ry="1.47" fill="#c840c8" opacity="0.84"/>
<ellipse cx="137.5" cy="366.1" rx="1.50" ry="1.43" fill="#3ce04f" opacity="0.82"/>
<ellipse cx="147.6" cy="351.6" rx="1.00" ry="0.83" fill="#3ce04f" opacity="0.72"/>
<ellipse cx="144.7" cy="366.1" rx="1.50" ry="1.46" fill="#3ce04f" opacity="0.75"/>
<line x1="66" y1="338" x2="85" y2="313" stroke="#6a2070" stroke-width="0.7" opacity="0.5"/>
</g>
<line x1="17.50" y1="294.00" x2="50.00" y2="294.00" stroke="#ffffff" stroke-width="1.9" />
<line x1="107.50" y1="294.00" x2="138.50" y2="294.00" stroke="#ffffff" stroke-width="1.9" />
<line x1="27.00" y1="381.60" x2="56.50" y2="381.60" stroke="#ffffff" stroke-width="1.9" />
<line x1="121.00" y1="382.40" x2="149.50" y2="382.40" stroke="#ffffff" stroke-width="1.9" />
<text x="214.20" y="216.70" font-size="11.6" fill="#000" text-anchor="start" font-weight="bold">E</text>
<line x1="251.30" y1="245.20" x2="251.30" y2="360.85" stroke="#262626" stroke-width="1.3" />
<line x1="248.30" y1="360.20" x2="251.30" y2="360.20" stroke="#262626" stroke-width="1.3" />
<text x="246.50" y="362.60" font-size="8.6" fill="#231f20" text-anchor="end" stroke="#231f20" stroke-width="0.15" textLength="11.4" lengthAdjust="spacingAndGlyphs">0.0</text>
<line x1="248.30" y1="338.05" x2="251.30" y2="338.05" stroke="#262626" stroke-width="1.3" />
<text x="246.50" y="340.45" font-size="8.6" fill="#231f20" text-anchor="end" stroke="#231f20" stroke-width="0.15" textLength="11.4" lengthAdjust="spacingAndGlyphs">0.1</text>
<line x1="248.30" y1="315.90" x2="251.30" y2="315.90" stroke="#262626" stroke-width="1.3" />
<text x="246.50" y="318.30" font-size="8.6" fill="#231f20" text-anchor="end" stroke="#231f20" stroke-width="0.15" textLength="11.4" lengthAdjust="spacingAndGlyphs">0.2</text>
<line x1="248.30" y1="293.75" x2="251.30" y2="293.75" stroke="#262626" stroke-width="1.3" />
<text x="246.50" y="296.15" font-size="8.6" fill="#231f20" text-anchor="end" stroke="#231f20" stroke-width="0.15" textLength="11.4" lengthAdjust="spacingAndGlyphs">0.3</text>
<line x1="248.30" y1="271.60" x2="251.30" y2="271.60" stroke="#262626" stroke-width="1.3" />
<text x="246.50" y="274.00" font-size="8.6" fill="#231f20" text-anchor="end" stroke="#231f20" stroke-width="0.15" textLength="11.4" lengthAdjust="spacingAndGlyphs">0.4</text>
<line x1="248.30" y1="249.45" x2="251.30" y2="249.45" stroke="#262626" stroke-width="1.3" />
<text x="246.50" y="251.85" font-size="8.6" fill="#231f20" text-anchor="end" stroke="#231f20" stroke-width="0.15" textLength="11.4" lengthAdjust="spacingAndGlyphs">0.5</text>
<rect x="263" y="336.75" width="19" height="23.45" fill="#c41430"/>
<rect x="294.5" y="262.5" width="19.5" height="97.70" fill="#105283"/>
<line x1="272.50" y1="312.50" x2="272.50" y2="336.75" stroke="#262626" stroke-width="1.1" />
<line x1="267.00" y1="312.50" x2="278.00" y2="312.50" stroke="#262626" stroke-width="1.1" />
<line x1="304.40" y1="256.75" x2="304.40" y2="262.50" stroke="#262626" stroke-width="1.1" />
<line x1="298.80" y1="256.75" x2="310.00" y2="256.75" stroke="#262626" stroke-width="1.1" />
<line x1="250.75" y1="360.20" x2="325.00" y2="360.20" stroke="#262626" stroke-width="1.3" />
<line x1="272.30" y1="360.20" x2="272.30" y2="363.20" stroke="#262626" stroke-width="1.3" />
<line x1="304.20" y1="360.20" x2="304.20" y2="363.20" stroke="#262626" stroke-width="1.3" />
<polyline points="272.5,246.2 272.5,240 302.5,240 302.5,246.2" fill="none" stroke="#262626" stroke-width="1.2"/>
<polygon points="288.80,234.10 289.36,235.63 290.99,235.69 289.70,236.69 290.15,238.26 288.80,237.35 287.45,238.26 287.90,236.69 286.61,235.69 288.24,235.63" fill="#111"/>
<text transform="translate(229.00,303.30) rotate(-90)" font-size="10" fill="#231f20" text-anchor="middle" stroke="#231f20" stroke-width="0.15" textLength="53" lengthAdjust="spacingAndGlyphs">CXCL12 [ng/mL]</text>
<text transform="translate(275.00,370.50) rotate(-45)" font-size="8" fill="#231f20" text-anchor="end" stroke="#231f20" stroke-width="0.15" textLength="48" lengthAdjust="spacingAndGlyphs">Unstimulated</text>
<text transform="translate(307.30,370.50) rotate(-45)" font-size="8" fill="#231f20" text-anchor="end" stroke="#231f20" stroke-width="0.15" textLength="32" lengthAdjust="spacingAndGlyphs">Collagen</text>
<text x="354.60" y="216.70" font-size="11.6" fill="#000" text-anchor="start" font-weight="bold">F</text>
<line x1="397.30" y1="245.60" x2="397.30" y2="360.75" stroke="#262626" stroke-width="1.3" />
<line x1="394.30" y1="360.20" x2="397.30" y2="360.20" stroke="#262626" stroke-width="1.3" />
<text x="391.60" y="362.60" font-size="8.6" fill="#231f20" text-anchor="end" stroke="#231f20" stroke-width="0.15" textLength="4.3" lengthAdjust="spacingAndGlyphs">0</text>
<line x1="394.30" y1="323.10" x2="397.30" y2="323.10" stroke="#262626" stroke-width="1.3" />
<text x="391.60" y="325.50" font-size="8.6" fill="#231f20" text-anchor="end" stroke="#231f20" stroke-width="0.15" textLength="12.899999999999999" lengthAdjust="spacingAndGlyphs">500</text>
<line x1="394.30" y1="286.00" x2="397.30" y2="286.00" stroke="#262626" stroke-width="1.3" />
<text x="391.60" y="288.40" font-size="8.6" fill="#231f20" text-anchor="end" stroke="#231f20" stroke-width="0.15" textLength="17.2" lengthAdjust="spacingAndGlyphs">1000</text>
<line x1="394.30" y1="248.90" x2="397.30" y2="248.90" stroke="#262626" stroke-width="1.3" />
<text x="391.60" y="251.30" font-size="8.6" fill="#231f20" text-anchor="end" stroke="#231f20" stroke-width="0.15" textLength="17.2" lengthAdjust="spacingAndGlyphs">1500</text>
<line x1="396.75" y1="360.20" x2="408.30" y2="360.20" stroke="#262626" stroke-width="1.3" />
<line x1="408.30" y1="360.20" x2="415.80" y2="360.20" stroke="#262626" stroke-width="1.3" stroke-dasharray="1.5,1.3"/>
<line x1="416.20" y1="360.20" x2="513.00" y2="360.20" stroke="#262626" stroke-width="1.3" />
<line x1="397.30" y1="360.20" x2="397.30" y2="363.40" stroke="#262626" stroke-width="1.3" />
<line x1="408.10" y1="360.20" x2="408.10" y2="363.40" stroke="#262626" stroke-width="1.3" />
<line x1="434.80" y1="360.20" x2="434.80" y2="363.40" stroke="#262626" stroke-width="1.3" />
<line x1="453.40" y1="360.20" x2="453.40" y2="363.40" stroke="#262626" stroke-width="1.3" />
<line x1="471.80" y1="360.20" x2="471.80" y2="363.40" stroke="#262626" stroke-width="1.3" />
<line x1="490.30" y1="360.20" x2="490.30" y2="363.40" stroke="#262626" stroke-width="1.3" />
<line x1="508.80" y1="360.20" x2="508.80" y2="363.40" stroke="#262626" stroke-width="1.3" />
<line x1="416.20" y1="357.20" x2="416.20" y2="363.40" stroke="#262626" stroke-width="1.3" />
<polyline points="401.5,231.4 401.5,225.5 508.8,225.5 508.8,231.4" fill="none" stroke="#262626" stroke-width="1.2"/>
<polygon points="451.00,219.60 451.56,221.13 453.19,221.19 451.90,222.19 452.35,223.76 451.00,222.85 449.65,223.76 450.10,222.19 448.81,221.19 450.44,221.13" fill="#111"/>
<polygon points="455.20,219.60 455.76,221.13 457.39,221.19 456.10,222.19 456.55,223.76 455.20,222.85 453.85,223.76 454.30,222.19 453.01,221.19 454.64,221.13" fill="#111"/>
<polygon points="459.40,219.60 459.96,221.13 461.59,221.19 460.30,222.19 460.75,223.76 459.40,222.85 458.05,223.76 458.50,222.19 457.21,221.19 458.84,221.13" fill="#111"/>
<polyline points="401.5,249.7 401.5,243.8 490.4,243.8 490.4,249.7" fill="none" stroke="#262626" stroke-width="1.2"/>
<polygon points="439.70,237.90 440.26,239.43 441.89,239.49 440.60,240.49 441.05,242.06 439.70,241.15 438.35,242.06 438.80,240.49 437.51,239.49 439.14,239.43" fill="#111"/>
<polygon points="443.90,237.90 444.46,239.43 446.09,239.49 444.80,240.49 445.25,242.06 443.90,241.15 442.55,242.06 443.00,240.49 441.71,239.49 443.34,239.43" fill="#111"/>
<polygon points="448.10,237.90 448.66,239.43 450.29,239.49 449.00,240.49 449.45,242.06 448.10,241.15 446.75,242.06 447.20,240.49 445.91,239.49 447.54,239.43" fill="#111"/>
<polygon points="452.30,237.90 452.86,239.43 454.49,239.49 453.20,240.49 453.65,242.06 452.30,241.15 450.95,242.06 451.40,240.49 450.11,239.49 451.74,239.43" fill="#111"/>
<polyline points="401.5,264.9 401.5,259.2 470.4,259.2 470.4,264.9" fill="none" stroke="#262626" stroke-width="1.2"/>
<polygon points="429.70,253.30 430.26,254.83 431.89,254.89 430.60,255.89 431.05,257.46 429.70,256.55 428.35,257.46 428.80,255.89 427.51,254.89 429.14,254.83" fill="#111"/>
<polygon points="433.90,253.30 434.46,254.83 436.09,254.89 434.80,255.89 435.25,257.46 433.90,256.55 432.55,257.46 433.00,255.89 431.71,254.89 433.34,254.83" fill="#111"/>
<polygon points="438.10,253.30 438.66,254.83 440.29,254.89 439.00,255.89 439.45,257.46 438.10,256.55 436.75,257.46 437.20,255.89 435.91,254.89 437.54,254.83" fill="#111"/>
<polygon points="442.30,253.30 442.86,254.83 444.49,254.89 443.20,255.89 443.65,257.46 442.30,256.55 440.95,257.46 441.40,255.89 440.11,254.89 441.74,254.83" fill="#111"/>
<line x1="397.30" y1="345.30" x2="397.30" y2="360.20" stroke="#333" stroke-width="1.1" />
<line x1="395.10" y1="345.30" x2="399.50" y2="345.30" stroke="#333" stroke-width="1.1" />
<line x1="395.10" y1="360.20" x2="399.50" y2="360.20" stroke="#333" stroke-width="1.1" />
<line x1="408.10" y1="343.80" x2="408.10" y2="356.50" stroke="#333" stroke-width="1.1" />
<line x1="405.90" y1="343.80" x2="410.30" y2="343.80" stroke="#333" stroke-width="1.1" />
<line x1="405.90" y1="356.50" x2="410.30" y2="356.50" stroke="#333" stroke-width="1.1" />
<line x1="434.80" y1="341.00" x2="434.80" y2="360.20" stroke="#333" stroke-width="1.1" />
<line x1="432.60" y1="341.00" x2="437.00" y2="341.00" stroke="#333" stroke-width="1.1" />
<line x1="432.60" y1="360.20" x2="437.00" y2="360.20" stroke="#333" stroke-width="1.1" />
<line x1="453.40" y1="322.30" x2="453.40" y2="352.60" stroke="#333" stroke-width="1.1" />
<line x1="451.20" y1="322.30" x2="455.60" y2="322.30" stroke="#333" stroke-width="1.1" />
<line x1="451.20" y1="352.60" x2="455.60" y2="352.60" stroke="#333" stroke-width="1.1" />
<line x1="471.80" y1="270.60" x2="471.80" y2="319.20" stroke="#333" stroke-width="1.1" />
<line x1="469.60" y1="270.60" x2="474.00" y2="270.60" stroke="#333" stroke-width="1.1" />
<line x1="469.60" y1="319.20" x2="474.00" y2="319.20" stroke="#333" stroke-width="1.1" />
<line x1="490.30" y1="272.50" x2="490.30" y2="315.80" stroke="#333" stroke-width="1.1" />
<line x1="488.10" y1="272.50" x2="492.50" y2="272.50" stroke="#333" stroke-width="1.1" />
<line x1="488.10" y1="315.80" x2="492.50" y2="315.80" stroke="#333" stroke-width="1.1" />
<line x1="508.90" y1="290.30" x2="508.90" y2="308.20" stroke="#333" stroke-width="1.1" />
<line x1="506.70" y1="290.30" x2="511.10" y2="290.30" stroke="#333" stroke-width="1.1" />
<line x1="506.70" y1="308.20" x2="511.10" y2="308.20" stroke="#333" stroke-width="1.1" />
<polyline points="397.3,352.8 408.1,350.2" fill="none" stroke="#c41430" stroke-width="1.6"/>
<polyline points="415.9,350.5 434.8,351.0 453.4,337.7 471.8,294.9 490.3,294.3 508.9,299.2" fill="none" stroke="#c41430" stroke-width="1.6" stroke-linejoin="round"/>
<circle cx="397.3" cy="352.8" r="2.4" fill="#c41430"/>
<circle cx="408.1" cy="350.2" r="2.4" fill="#c41430"/>
<circle cx="434.8" cy="351.0" r="2.4" fill="#c41430"/>
<circle cx="453.4" cy="337.7" r="2.4" fill="#c41430"/>
<circle cx="471.8" cy="294.9" r="2.4" fill="#c41430"/>
<circle cx="490.3" cy="294.3" r="2.4" fill="#c41430"/>
<circle cx="508.9" cy="299.2" r="2.4" fill="#c41430"/>
<text transform="translate(368.80,302.70) rotate(-90)" font-size="10" fill="#231f20" text-anchor="middle" stroke="#231f20" stroke-width="0.15" textLength="101" lengthAdjust="spacingAndGlyphs">Platelet aggregation [AU*min]</text>
<text transform="translate(400.30,370.30) rotate(-45)" font-size="8" fill="#231f20" text-anchor="end" stroke="#231f20" stroke-width="0.15">0</text>
<text transform="translate(419.20,370.30) rotate(-45)" font-size="8" fill="#231f20" text-anchor="end" stroke="#231f20" stroke-width="0.15" textLength="11" lengthAdjust="spacingAndGlyphs">0.1</text>
<text transform="translate(437.80,370.30) rotate(-45)" font-size="8" fill="#231f20" text-anchor="end" stroke="#231f20" stroke-width="0.15">1</text>
<text transform="translate(456.40,370.30) rotate(-45)" font-size="8" fill="#231f20" text-anchor="end" stroke="#231f20" stroke-width="0.15" textLength="8.7" lengthAdjust="spacingAndGlyphs">10</text>
<text transform="translate(474.80,370.30) rotate(-45)" font-size="8" fill="#231f20" text-anchor="end" stroke="#231f20" stroke-width="0.15" textLength="13" lengthAdjust="spacingAndGlyphs">100</text>
<text transform="translate(493.30,370.30) rotate(-45)" font-size="8" fill="#231f20" text-anchor="end" stroke="#231f20" stroke-width="0.15" textLength="17.3" lengthAdjust="spacingAndGlyphs">1000</text>
<text transform="translate(511.80,370.30) rotate(-45)" font-size="8" fill="#231f20" text-anchor="end" stroke="#231f20" stroke-width="0.15" textLength="21.5" lengthAdjust="spacingAndGlyphs">10000</text>
<text x="429.00" y="392.60" font-size="9.3" fill="#231f20" text-anchor="start" stroke="#231f20" stroke-width="0.15" textLength="48.4" lengthAdjust="spacingAndGlyphs">CXCL12 ng/mL</text>
<text x="162.60" y="442.70" font-size="11.6" fill="#000" text-anchor="start" font-weight="bold">G</text>
<line x1="214.50" y1="447.30" x2="214.50" y2="562.95" stroke="#262626" stroke-width="1.3" />
<line x1="211.50" y1="562.30" x2="214.50" y2="562.30" stroke="#262626" stroke-width="1.3" />
<text x="208.20" y="564.70" font-size="8.6" fill="#231f20" text-anchor="end" stroke="#231f20" stroke-width="0.15" textLength="4.3" lengthAdjust="spacingAndGlyphs">0</text>
<line x1="211.50" y1="540.08" x2="214.50" y2="540.08" stroke="#262626" stroke-width="1.3" />
<text x="208.20" y="542.48" font-size="8.6" fill="#231f20" text-anchor="end" stroke="#231f20" stroke-width="0.15" textLength="12.899999999999999" lengthAdjust="spacingAndGlyphs">500</text>
<line x1="211.50" y1="517.86" x2="214.50" y2="517.86" stroke="#262626" stroke-width="1.3" />
<text x="208.20" y="520.26" font-size="8.6" fill="#231f20" text-anchor="end" stroke="#231f20" stroke-width="0.15" textLength="17.2" lengthAdjust="spacingAndGlyphs">1000</text>
<line x1="211.50" y1="495.64" x2="214.50" y2="495.64" stroke="#262626" stroke-width="1.3" />
<text x="208.20" y="498.04" font-size="8.6" fill="#231f20" text-anchor="end" stroke="#231f20" stroke-width="0.15" textLength="17.2" lengthAdjust="spacingAndGlyphs">1500</text>
<line x1="211.50" y1="473.42" x2="214.50" y2="473.42" stroke="#262626" stroke-width="1.3" />
<text x="208.20" y="475.82" font-size="8.6" fill="#231f20" text-anchor="end" stroke="#231f20" stroke-width="0.15" textLength="17.2" lengthAdjust="spacingAndGlyphs">2000</text>
<line x1="211.50" y1="451.20" x2="214.50" y2="451.20" stroke="#262626" stroke-width="1.3" />
<text x="208.20" y="453.60" font-size="8.6" fill="#231f20" text-anchor="end" stroke="#231f20" stroke-width="0.15" textLength="17.2" lengthAdjust="spacingAndGlyphs">2500</text>
<rect x="228" y="560.0" width="18.90" height="2.30" fill="#c41430"/>
<line x1="237.40" y1="555.40" x2="237.40" y2="560.00" stroke="#262626" stroke-width="1.1" />
<line x1="232.20" y1="555.40" x2="242.60" y2="555.40" stroke="#262626" stroke-width="1.1" />
<rect x="260" y="530.8" width="18.90" height="31.50" fill="#105283"/>
<line x1="269.50" y1="517.00" x2="269.50" y2="530.80" stroke="#262626" stroke-width="1.1" />
<line x1="264.30" y1="517.00" x2="274.70" y2="517.00" stroke="#262626" stroke-width="1.1" />
<rect x="292" y="491.8" width="19.20" height="70.50" fill="#3cb54f"/>
<line x1="301.50" y1="468.80" x2="301.50" y2="491.80" stroke="#262626" stroke-width="1.1" />
<line x1="296.30" y1="468.80" x2="306.70" y2="468.80" stroke="#262626" stroke-width="1.1" />
<rect x="324" y="520.0" width="19.20" height="42.30" fill="#5a276b"/>
<line x1="333.50" y1="512.70" x2="333.50" y2="520.00" stroke="#262626" stroke-width="1.1" />
<line x1="328.30" y1="512.70" x2="338.70" y2="512.70" stroke="#262626" stroke-width="1.1" />
<line x1="213.85" y1="562.30" x2="357.70" y2="562.30" stroke="#262626" stroke-width="1.3" />
<line x1="237.40" y1="562.30" x2="237.40" y2="565.30" stroke="#262626" stroke-width="1.3" />
<line x1="269.50" y1="562.30" x2="269.50" y2="565.30" stroke="#262626" stroke-width="1.3" />
<line x1="301.50" y1="562.30" x2="301.50" y2="565.30" stroke="#262626" stroke-width="1.3" />
<line x1="333.50" y1="562.30" x2="333.50" y2="565.30" stroke="#262626" stroke-width="1.3" />
<polyline points="227.6,494.6 227.6,487.7 265.7,487.7 265.7,494.6" fill="none" stroke="#262626" stroke-width="1.2"/>
<polygon points="242.80,481.80 243.36,483.33 244.99,483.39 243.70,484.39 244.15,485.96 242.80,485.05 241.45,485.96 241.90,484.39 240.61,483.39 242.24,483.33" fill="#111"/>
<polygon points="247.00,481.80 247.56,483.33 249.19,483.39 247.90,484.39 248.35,485.96 247.00,485.05 245.65,485.96 246.10,484.39 244.81,483.39 246.44,483.33" fill="#111"/>
<polygon points="251.20,481.80 251.76,483.33 253.39,483.39 252.10,484.39 252.55,485.96 251.20,485.05 249.85,485.96 250.30,484.39 249.01,483.39 250.64,483.33" fill="#111"/>
<polyline points="262.2,457.2 262.2,451.2 298.5,451.2 298.5,457.2" fill="none" stroke="#262626" stroke-width="1.2"/>
<polygon points="274.20,445.30 274.76,446.83 276.39,446.89 275.10,447.89 275.55,449.46 274.20,448.55 272.85,449.46 273.30,447.89 272.01,446.89 273.64,446.83" fill="#111"/>
<polygon points="278.40,445.30 278.96,446.83 280.59,446.89 279.30,447.89 279.75,449.46 278.40,448.55 277.05,449.46 277.50,447.89 276.21,446.89 277.84,446.83" fill="#111"/>
<polygon points="282.60,445.30 283.16,446.83 284.79,446.89 283.50,447.89 283.95,449.46 282.60,448.55 281.25,449.46 281.70,447.89 280.41,446.89 282.04,446.83" fill="#111"/>
<polygon points="286.80,445.30 287.36,446.83 288.99,446.89 287.70,447.89 288.15,449.46 286.80,448.55 285.45,449.46 285.90,447.89 284.61,446.89 286.24,446.83" fill="#111"/>
<polyline points="303.8,457.2 303.8,451.2 340.5,451.2 340.5,457.2" fill="none" stroke="#262626" stroke-width="1.2"/>
<polygon points="322.20,445.30 322.76,446.83 324.39,446.89 323.10,447.89 323.55,449.46 322.20,448.55 320.85,449.46 321.30,447.89 320.01,446.89 321.64,446.83" fill="#111"/>
<text transform="translate(184.50,504.40) rotate(-90)" font-size="10" fill="#231f20" text-anchor="middle" stroke="#231f20" stroke-width="0.15" textLength="101.5" lengthAdjust="spacingAndGlyphs">Platelet aggregation [AU*min]</text>
<text x="175.00" y="581.90" font-size="8.2" fill="#231f20" text-anchor="start" stroke="#231f20" stroke-width="0.15">NaCl</text>
<text x="237.50" y="581.90" font-size="8" fill="#231f20" text-anchor="middle" stroke="#231f20" stroke-width="0.15">+</text>
<text x="269.50" y="581.90" font-size="8" fill="#231f20" text-anchor="middle" stroke="#231f20" stroke-width="0.15">−</text>
<text x="301.50" y="581.90" font-size="8" fill="#231f20" text-anchor="middle" stroke="#231f20" stroke-width="0.15">−</text>
<text x="333.50" y="581.90" font-size="8" fill="#231f20" text-anchor="middle" stroke="#231f20" stroke-width="0.15">−</text>
<text x="175.00" y="592.90" font-size="8.2" fill="#231f20" text-anchor="start" stroke="#231f20" stroke-width="0.15">Collagen</text>
<text x="237.50" y="592.90" font-size="8" fill="#231f20" text-anchor="middle" stroke="#231f20" stroke-width="0.15">−</text>
<text x="269.50" y="592.90" font-size="8" fill="#231f20" text-anchor="middle" stroke="#231f20" stroke-width="0.15">+</text>
<text x="301.50" y="592.90" font-size="8" fill="#231f20" text-anchor="middle" stroke="#231f20" stroke-width="0.15">+</text>
<text x="333.50" y="592.90" font-size="8" fill="#231f20" text-anchor="middle" stroke="#231f20" stroke-width="0.15">+</text>
<text x="175.00" y="603.50" font-size="8.2" fill="#231f20" text-anchor="start" stroke="#231f20" stroke-width="0.15" textLength="29" lengthAdjust="spacingAndGlyphs">CXCL12</text>
<text x="237.50" y="603.50" font-size="8" fill="#231f20" text-anchor="middle" stroke="#231f20" stroke-width="0.15">−</text>
<text x="269.50" y="603.50" font-size="8" fill="#231f20" text-anchor="middle" stroke="#231f20" stroke-width="0.15">−</text>
<text x="301.50" y="603.50" font-size="8" fill="#231f20" text-anchor="middle" stroke="#231f20" stroke-width="0.15">+</text>
<text x="333.50" y="603.50" font-size="8" fill="#231f20" text-anchor="middle" stroke="#231f20" stroke-width="0.15">+</text>
<text x="175.00" y="614.40" font-size="8.2" fill="#231f20" text-anchor="start" stroke="#231f20" stroke-width="0.15">AMD3465</text>
<text x="237.50" y="614.40" font-size="8" fill="#231f20" text-anchor="middle" stroke="#231f20" stroke-width="0.15">−</text>
<text x="269.50" y="614.40" font-size="8" fill="#231f20" text-anchor="middle" stroke="#231f20" stroke-width="0.15">−</text>
<text x="301.50" y="614.40" font-size="8" fill="#231f20" text-anchor="middle" stroke="#231f20" stroke-width="0.15">−</text>
<text x="333.50" y="614.40" font-size="8" fill="#231f20" text-anchor="middle" stroke="#231f20" stroke-width="0.15">+</text>
<rect x="0.5" y="0.5" width="519" height="620" fill="none" stroke="#000" stroke-width="1.2"/>
</svg>
</body></html>
